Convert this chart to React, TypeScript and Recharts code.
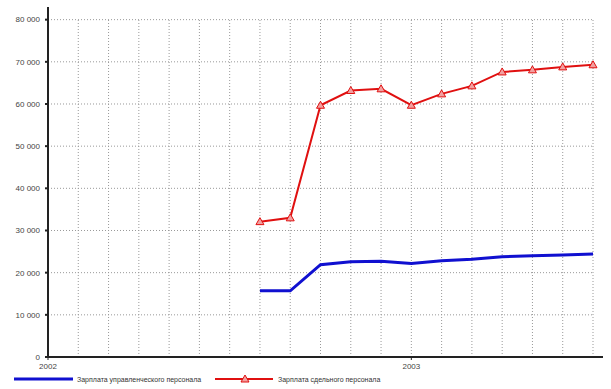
import React from "react";
import { LineChart, Line, XAxis, YAxis, ReferenceLine, Legend } from "recharts";

const monthIndex = [7, 8, 9, 10, 11, 12, 13, 14, 15, 16, 17, 18];
const managementPay = [15700, 15700, 21900, 22600, 22700, 22200, 22800, 23200, 23800, 24000, 24200, 24400];
const piecePay = [32100, 33000, 59700, 63200, 63600, 59700, 62400, 64300, 67600, 68100, 68800, 69300];
const yTicks = [0, 10000, 20000, 30000, 40000, 50000, 60000, 70000, 80000];
const yearTicks = [0, 12];
const yearLabels = ["2002", "2003"];
const gridMonths = [1, 2, 3, 4, 5, 6, 7, 8, 9, 10, 11, 12, 13, 14, 15, 16, 17, 18];
const seriesNames = ["Зарплата управленческого персонала", "Зарплата сдельного персонала"];

const data = monthIndex.map((m, i) => ({ m, mgmt: managementPay[i], piece: piecePay[i] }));

const FONT = "'Liberation Sans', Arial, sans-serif";

const fmt = (v: number) => (v === 0 ? "0" : `${Math.floor(v / 1000)} 000`);

const Triangle = (props: any) => {
  const { cx, cy } = props;
  if (cx == null || cy == null) return null;
  return (
    <path
      d={`M${cx},${cy - 4} L${cx + 4},${cy + 3} L${cx - 4},${cy + 3} Z`}
      fill="#f2a0a0"
      stroke="#e01010"
      strokeWidth={1}
    />
  );
};

const LegendContent = () => (
  <svg width={611} height={14}>
    <line x1={14} y1={7} x2={73} y2={7} stroke="#1010d0" strokeWidth={3} />
    <text x={77} y={10} fontSize={7} fill="#333" fontFamily={FONT}>{seriesNames[0]}</text>
    <line x1={215} y1={7} x2={273} y2={7} stroke="#e01010" strokeWidth={2} />
    <path d="M245,3 L249,10 L241,10 Z" fill="#f2a0a0" stroke="#e01010" strokeWidth={1} />
    <text x={278} y={10} fontSize={7} fill="#333" fontFamily={FONT}>{seriesNames[1]}</text>
  </svg>
);

export default function App() {
  return (
    <div style={{ position: "absolute", left: 0, top: 0, width: 611, height: 389, background: "#fff" }}>
      <LineChart width={611} height={389} data={data} margin={{ top: 7, right: 8, left: 0, bottom: 4 }}>
        <XAxis
          dataKey="m"
          type="number"
          domain={[0, 18.33]}
          ticks={yearTicks}
          tickFormatter={(v: number) => yearLabels[yearTicks.indexOf(v)] ?? ""}
          axisLine={{ stroke: "#222", strokeWidth: 2 }}
          tickLine={{ stroke: "#222" }}
          tickSize={3}
          tickMargin={3}
          height={14}
          tick={{ fontSize: 8, fill: "#444", fontFamily: FONT }}
          allowDataOverflow
        />
        <YAxis
          type="number"
          domain={[0, 83000]}
          ticks={yTicks}
          tickFormatter={fmt}
          axisLine={{ stroke: "#222", strokeWidth: 2 }}
          tickLine={{ stroke: "#222", strokeWidth: 2 }}
          tickSize={3}
          tickMargin={5}
          width={48}
          tick={{ fontSize: 8, fill: "#444", fontFamily: FONT }}
          allowDataOverflow
        />
        {yTicks.slice(1).map((t) => (
          <ReferenceLine
            key={"h" + t}
            segment={[{ x: 0, y: t }, { x: 18, y: t }]}
            stroke="#999"
            strokeDasharray="1 2"
            ifOverflow="visible"
          />
        ))}
        {gridMonths.map((m) => (
          <ReferenceLine
            key={"v" + m}
            segment={[{ x: m, y: 0 }, { x: m, y: 80000 }]}
            stroke="#999"
            strokeDasharray="1 2"
            ifOverflow="visible"
          />
        ))}
        <Legend
          content={<LegendContent />}
          wrapperStyle={{ position: "absolute", left: 0, top: 372, width: 611, height: 14 }}
        />
        <Line
          dataKey="mgmt"
          stroke="#1010d0"
          strokeWidth={3}
          dot={false}
          isAnimationActive={false}
          type="linear"
        />
        <Line
          dataKey="piece"
          stroke="#e01010"
          strokeWidth={2}
          dot={<Triangle />}
          activeDot={false}
          isAnimationActive={false}
          type="linear"
        />
      </LineChart>
    </div>
  );
}
